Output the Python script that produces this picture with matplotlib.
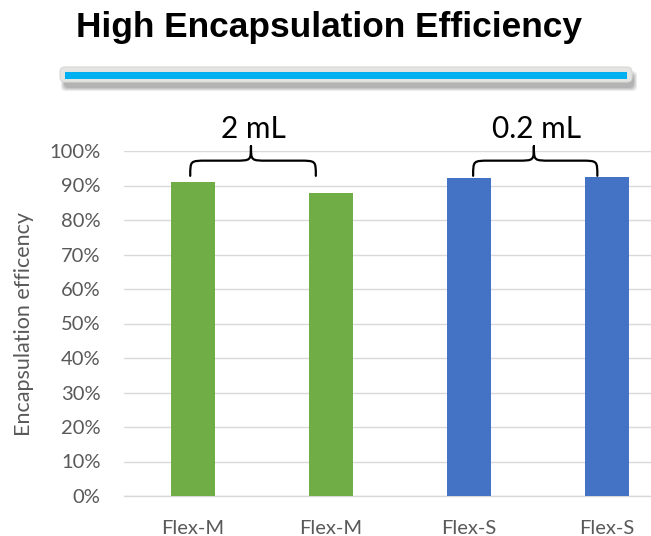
import matplotlib
matplotlib.use("Agg")
import matplotlib.pyplot as plt
from matplotlib.patches import FancyBboxPatch, PathPatch
from matplotlib.path import Path
from matplotlib.ticker import PercentFormatter

# Data
categories = ["Flex-M", "Flex-M", "Flex-S", "Flex-S"]
efficiency = [0.910, 0.878, 0.922, 0.925]
bar_colors = ["#70AD47", "#70AD47", "#4472C4", "#4472C4"]
group_labels = ["2 mL", "0.2 mL"]
group_spans = [(-0.02, 0.89), (2.03, 2.93)]   # brace extents in category units
group_peaks = [0.42, 2.47]

W, H = 651, 536
fig = plt.figure(figsize=(W / 100, H / 100), dpi=100)
fig.patch.set_facecolor("white")

FONT = ["Lato", "DejaVu Sans"]
GREY_TXT = "#595959"

# ---- main chart axes (extends past the right figure edge) ----
left_px, right_px = 124, 676
top_px, bot_px = 151, 496
ax = fig.add_axes([left_px / W, (H - bot_px) / H,
                   (right_px - left_px) / W, (bot_px - top_px) / H])
ax.set_xlim(-0.5, 3.5)
ax.set_ylim(0, 1.0)

x = list(range(len(categories)))
ax.bar(x, efficiency, width=0.319, color=bar_colors, zorder=3)

ax.set_yticks([i / 10 for i in range(11)])
ax.yaxis.set_major_formatter(PercentFormatter(1.0, decimals=0))
ax.set_xticks(x)
ax.set_xticklabels(categories)
ax.grid(axis="y", color="#D9D9D9", linewidth=1.0, zorder=0)
ax.set_axisbelow(True)
for s in ["top", "right", "left"]:
    ax.spines[s].set_visible(False)
ax.spines["bottom"].set_color("#D9D9D9")
ax.spines["bottom"].set_linewidth(1.0)
ax.tick_params(axis="both", length=0, labelcolor=GREY_TXT, labelsize=14.5)
ax.tick_params(axis="y", pad=17)
ax.tick_params(axis="x", pad=17)
for lab in ax.get_xticklabels() + ax.get_yticklabels():
    lab.set_family(FONT)

ax.set_ylabel("Encapsulation efficency", fontsize=15.5, color=GREY_TXT,
              family=FONT)
ax.yaxis.set_label_coords(-(left_px - 34) / (right_px - left_px),
                          0.5 - (324 - (top_px + bot_px) / 2) / (bot_px - top_px))


# ---- curly braces over each group ----
def brace_path(x0, x1, xm, y_tip, y_mid, y_peak, r):
    verts = [
        (x0, y_tip),
        (x0, y_mid), (x0, y_mid), (x0 + r, y_mid),
        (xm - r, y_mid),
        (xm, y_mid), (xm, y_mid), (xm, y_peak),
        (xm, y_peak),
        (xm, y_mid), (xm, y_mid), (xm + r, y_mid),
        (x1 - r, y_mid),
        (x1, y_mid), (x1, y_mid), (x1, y_tip),
    ]
    codes = [Path.MOVETO,
             Path.CURVE4, Path.CURVE4, Path.CURVE4,
             Path.LINETO,
             Path.CURVE4, Path.CURVE4, Path.CURVE4,
             Path.MOVETO,
             Path.CURVE4, Path.CURVE4, Path.CURVE4,
             Path.LINETO,
             Path.CURVE4, Path.CURVE4, Path.CURVE4]
    return Path(verts, codes)


for (x0, x1), xm, label in zip(group_spans, group_peaks, group_labels):
    p = brace_path(x0, x1, xm, 0.928, 0.972, 1.014, 0.12)
    ax.add_patch(PathPatch(p, facecolor="none", edgecolor="black",
                           linewidth=1.6, clip_on=False, zorder=4,
                           capstyle="round", joinstyle="round"))
    ax.text(xm + 0.02, 1.038, label, ha="center", va="baseline", fontsize=21.5,
            family=FONT, color="black", clip_on=False)

# ---- header overlay: title and decorative underline bar ----
ov = fig.add_axes([0, 0, 1, 1], zorder=10)
ov.set_xlim(0, W)
ov.set_ylim(H, 0)
ov.axis("off")
ov.patch.set_alpha(0)

ov.text(76, 37, "High Encapsulation Efficiency", ha="left", va="baseline",
        fontsize=25.4, fontweight="bold", family=["Liberation Sans", "DejaVu Sans"],
        color="black")

# soft drop shadow under the bar
for i, a in enumerate([0.10, 0.10, 0.12, 0.14]):
    g = 3 - i
    ov.add_patch(FancyBboxPatch((62 - g + 2, 70 - g + 4), 570 + 2 * g, 14 + 2 * g,
                                boxstyle="round,pad=0,rounding_size=5",
                                facecolor="#404040", edgecolor="none", alpha=a))
ov.add_patch(FancyBboxPatch((60, 67), 572, 15,
                            boxstyle="round,pad=0,rounding_size=5",
                            facecolor="#E4E4E2", edgecolor="#D8D8D6", linewidth=0.8))
ov.add_patch(FancyBboxPatch((65, 72), 562, 7, boxstyle="square,pad=0",
                            facecolor="#00B0F0", edgecolor="none"))

fig.savefig("out.png", dpi=100, facecolor="white")
